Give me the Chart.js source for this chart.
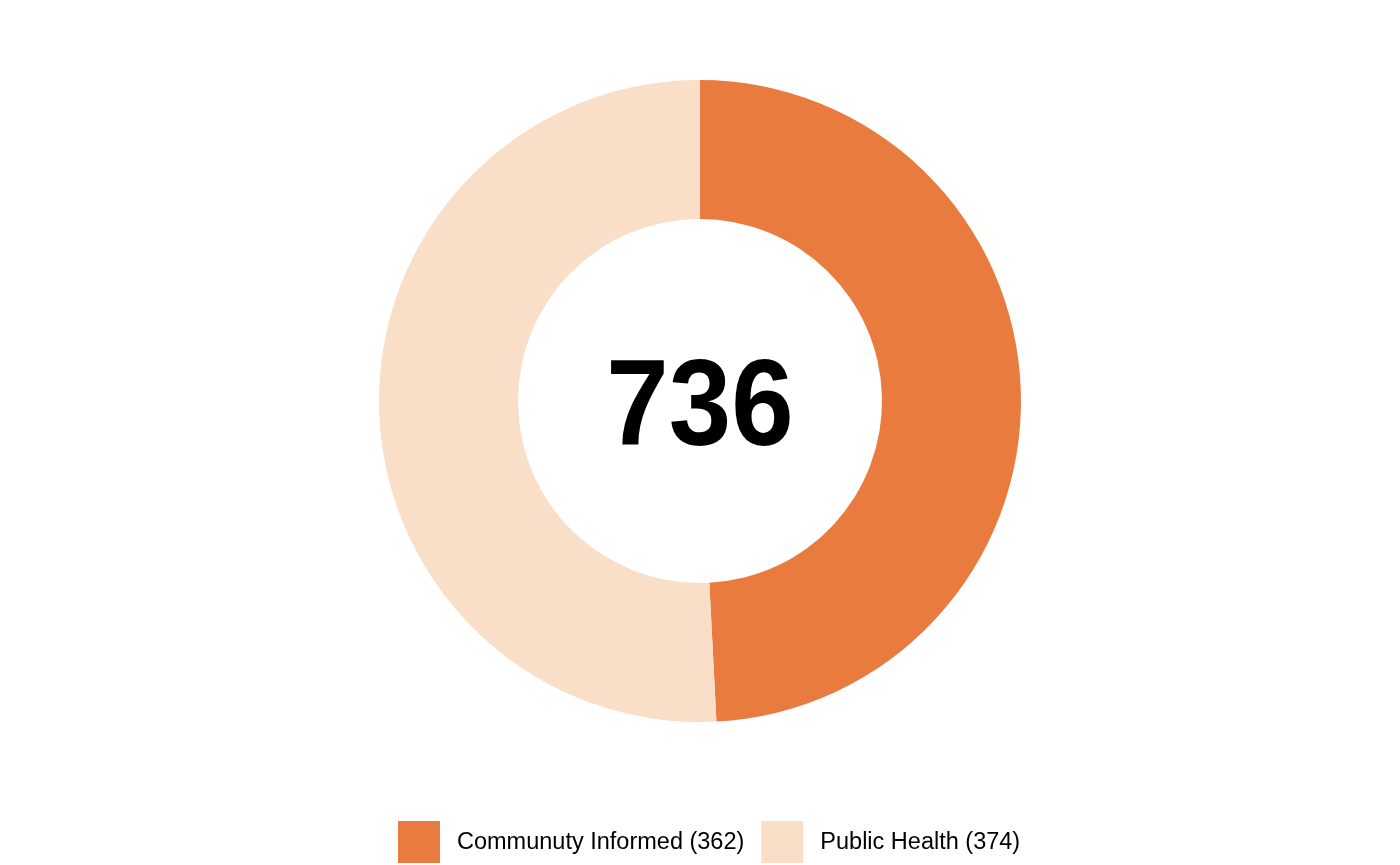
<!DOCTYPE html>
<html>
<head>
<meta charset="utf-8">
<script src="https://cdn.jsdelivr.net/npm/chart.js@4/dist/chart.umd.min.js"></script>
<style>
html,body{margin:0;padding:0;background:#fff;}
#wrap{width:1400px;height:865px;position:relative;}
</style>
</head>
<body>
<div id="wrap"><canvas id="c" width="1400" height="865"></canvas></div>
<script>
const categories = ["Communuty Informed", "Public Health"];
const values = [362, 374];
const colors = ["#EA7B3E", "#F9DEC8"];
const total = values.reduce((a, b) => a + b, 0);

const centerText = {
  id: 'centerText',
  afterDraw(chart) {
    const meta = chart.getDatasetMeta(0);
    const arc = meta.data[0];
    const ctx = chart.ctx;
    ctx.save();
    ctx.fillStyle = '#000';
    ctx.font = 'bold 122px "Liberation Sans", Arial, sans-serif';
    ctx.textAlign = 'center';
    ctx.textBaseline = 'alphabetic';
    ctx.translate(arc.x, arc.y + 44);
    ctx.scale(0.92, 1);
    ctx.fillText(String(total), 0, 0);
    ctx.restore();
  }
};

const bottomLegend = {
  id: 'bottomLegend',
  afterDraw(chart) {
    const ctx = chart.ctx;
    const ds = chart.data.datasets[0];
    ctx.save();
    ctx.font = '23.5px "Liberation Sans", Arial, sans-serif';
    ctx.textBaseline = 'middle';
    ctx.textAlign = 'left';
    const box = 42, gapText = 17, gapItem = 17;
    const labels = chart.data.labels.map((l, i) => l + ' (' + ds.data[i] + ')');
    let x = 398;
    const y = 821;
    labels.forEach((t, i) => {
      ctx.fillStyle = ds.backgroundColor[i];
      ctx.fillRect(x, y, box, box);
      ctx.fillStyle = '#000';
      ctx.fillText(t, x + box + gapText, y + box / 2 + 1);
      x += box + gapText + ctx.measureText(t).width + gapItem;
    });
    ctx.restore();
  }
};

new Chart(document.getElementById('c'), {
  type: 'doughnut',
  data: {
    labels: categories,
    datasets: [{
      data: values,
      backgroundColor: colors,
      borderWidth: 0,
      hoverOffset: 0
    }]
  },
  options: {
    responsive: false,
    animation: false,
    cutout: '56.7%',
    layout: { padding: { top: 80, bottom: 143, left: 0, right: 0 } },
    plugins: {
      legend: { display: false },
      tooltip: { enabled: false }
    }
  },
  plugins: [centerText, bottomLegend]
});
</script>
</body>
</html>
